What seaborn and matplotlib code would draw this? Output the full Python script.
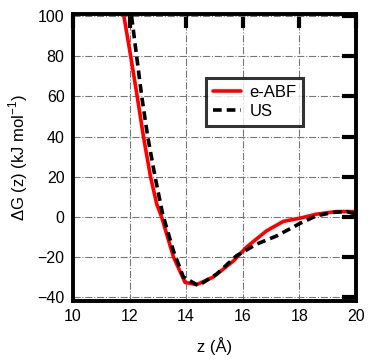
import matplotlib
matplotlib.use("Agg")
import matplotlib.pyplot as plt
import pandas as pd
import seaborn as sns

sns.set_theme(style="white")
plt.rcParams["font.family"] = ["Liberation Sans", "DejaVu Sans"]
plt.rcParams["text.color"] = "black"
plt.rcParams["axes.labelcolor"] = "black"
plt.rcParams["mathtext.fontset"] = "custom"
plt.rcParams["mathtext.rm"] = "Liberation Sans"

# e-ABF profile
abf_z = [11.80, 12.04, 12.27, 12.49, 12.74, 12.96, 13.13, 13.55, 13.96, 14.37,
         14.96, 15.67, 16.14, 16.84, 17.43, 18.02, 18.6, 19.3, 20.0]
abf_g = [100, 80, 60, 40, 20, 6.3, 0, -20, -32.7, -33.8,
         -30, -22, -15, -7, -2.3, -0.7, 1.3, 2.6, 2.6]

# umbrella sampling profile
us_z = [12.07, 12.25, 12.43, 12.64, 12.90, 13.17, 13.55, 13.9, 14.43, 15.08,
        15.78, 16.49, 17.2, 18.02, 18.6, 19.2, 19.67, 20.0]
us_g = [100, 80, 60, 40, 20, 1.3, -17, -30, -34.3, -28.5,
        -19.4, -13.6, -9.5, -3.3, 0.5, 2.2, 2.6, 1.3]

x_ticks = [10, 12, 14, 16, 18, 20]
y_ticks = [-40, -20, 0, 20, 40, 60, 80, 100]

df = pd.concat([
    pd.DataFrame({"z": abf_z, "dG": abf_g, "method": "e-ABF"}),
    pd.DataFrame({"z": us_z, "dG": us_g, "method": "US"}),
])

fig = plt.figure(figsize=(3.74, 3.61), dpi=100)
ax = fig.add_axes([0.195, 0.166, 0.757, 0.795])

sns.lineplot(data=df[df.method == "e-ABF"], x="z", y="dG", color="#ff0000",
             linewidth=2.6, ax=ax, label="e-ABF", sort=False)
sns.lineplot(data=df[df.method == "US"], x="z", y="dG", color="black",
             linewidth=2.6, ax=ax, label="US", sort=False, dashes=False)
ax.lines[1].set_dashes([2.4, 1.4])

ax.set_xlim(10, 20)
ax.set_ylim(-42, 101)
ax.set_xticks(x_ticks)
ax.set_yticks(y_ticks)
ax.grid(True, color="#777777", linestyle="-.", linewidth=0.8)
ax.tick_params(direction="in", length=10, width=3, top=True, right=True,
               labelsize=11.5, colors="black", pad=6)
for s in ax.spines.values():
    s.set_linewidth(2.8)
    s.set_color("black")

ax.set_xlabel("z (Å)", fontsize=12, labelpad=9)
ax.set_ylabel("ΔG (z) (kJ mol$^{-1}$)", fontsize=12, labelpad=5)

leg = ax.legend(loc="upper left", bbox_to_anchor=(0.47, 0.776), fontsize=12,
                frameon=True, fancybox=False, handlelength=1.7,
                borderpad=0.4, labelspacing=0.25, handletextpad=0.5,
                borderaxespad=0)
leg.get_frame().set_edgecolor("black")
leg.get_frame().set_linewidth(2.2)

fig.savefig("out.png", dpi=100)
